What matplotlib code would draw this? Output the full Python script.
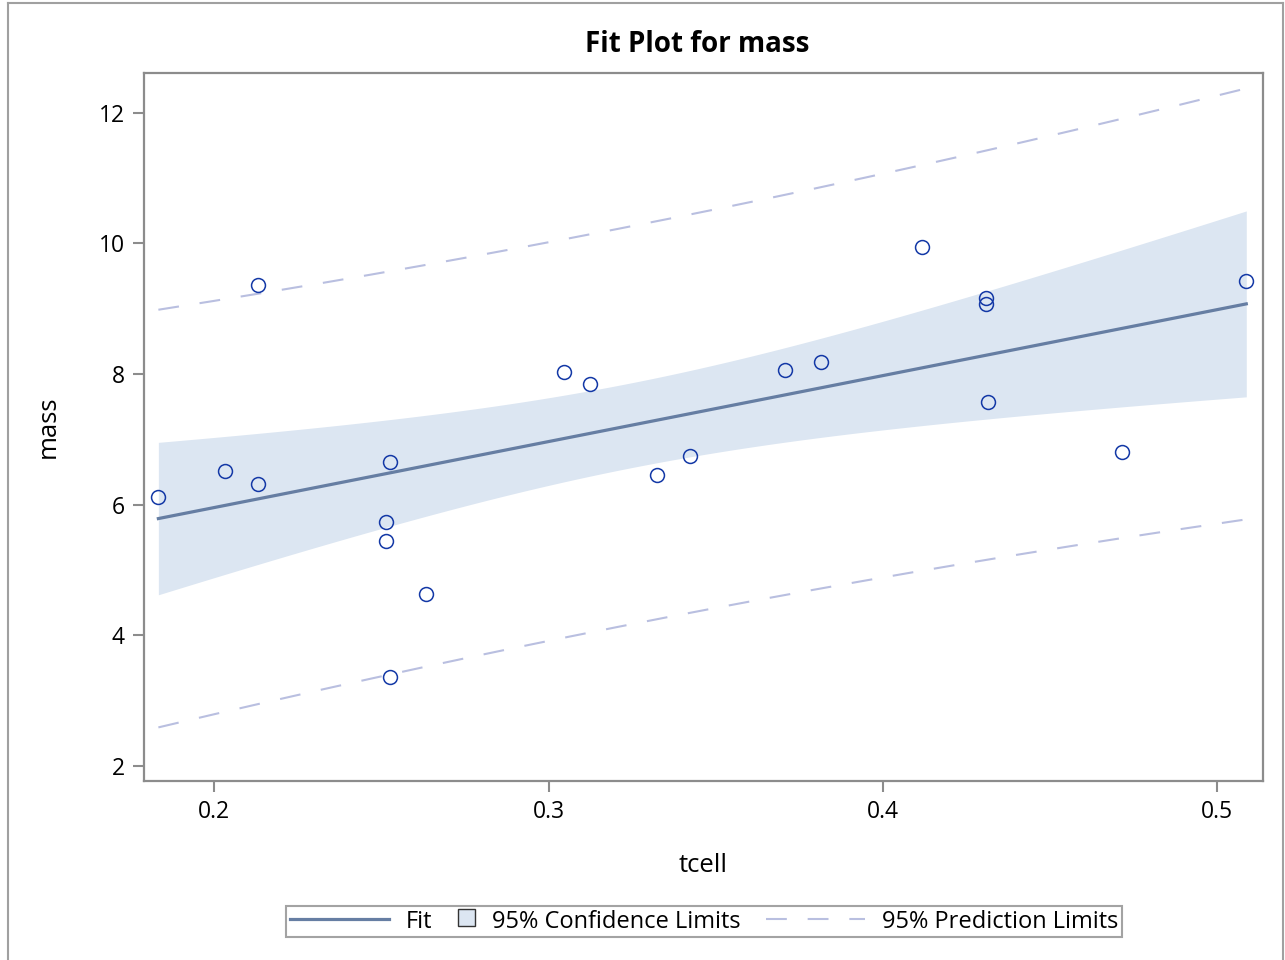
import numpy as np
import matplotlib
matplotlib.use("Agg")
import matplotlib.pyplot as plt
from matplotlib.lines import Line2D
from matplotlib.patches import Rectangle
from matplotlib.legend_handler import HandlerBase

plt.rcParams['font.family'] = ['Open Sans', 'DejaVu Sans']

# Data
tcell = [0.1833, 0.2033, 0.2131, 0.2131, 0.2513, 0.2513, 0.2525, 0.2525, 0.2633,
         0.3045, 0.3125, 0.3325, 0.3424, 0.3707, 0.3815, 0.4116, 0.4307, 0.4307,
         0.4313, 0.4716, 0.5087]
mass = [6.12, 6.52, 9.36, 6.31, 5.74, 5.45, 6.66, 3.36, 4.64,
        8.03, 7.85, 6.46, 6.75, 8.06, 8.18, 9.95, 9.16, 9.08,
        7.57, 6.81, 9.42]
x_ticks = [0.2, 0.3, 0.4, 0.5]
y_ticks = [2, 4, 6, 8, 10, 12]

x = np.array(tcell)
y = np.array(mass)
n = len(x)
b1, b0 = np.polyfit(x, y, 1)
resid = y - (b0 + b1 * x)
s = np.sqrt(np.sum(resid ** 2) / (n - 2))
tval = 2.093024  # t(0.975, 19)
xg = np.linspace(x.min(), x.max(), 200)
yg = b0 + b1 * xg
sxx = np.sum((x - x.mean()) ** 2)
se_mean = s * np.sqrt(1.0 / n + (xg - x.mean()) ** 2 / sxx)
se_pred = s * np.sqrt(1 + 1.0 / n + (xg - x.mean()) ** 2 / sxx)

fill_c = '#DCE6F2'
fit_c = '#667EA3'
pred_c = '#B9BFE0'
mark_c = '#1338A6'
gray = '#8C8C8C'
FS = 16.5

fig = plt.figure(figsize=(12.85, 9.6), dpi=100)
ax = fig.add_axes([144 / 1285, 1 - 781 / 960, (1263 - 144) / 1285, (781 - 73) / 960])

ax.fill_between(xg, yg - tval * se_mean, yg + tval * se_mean, color=fill_c, lw=0, zorder=1)
ax.plot(xg, yg, color=fit_c, lw=2.3, zorder=3)
ax.plot(xg, yg - tval * se_pred, color=pred_c, lw=1.5, ls=(0, (10, 10)), zorder=2)
ax.plot(xg, yg + tval * se_pred, color=pred_c, lw=1.5, ls=(0, (10, 10)), zorder=2)
ax.plot(x, y, ls='none', marker='o', ms=10, mfc='none', mec=mark_c, mew=1.1, zorder=4)

ax.set_xlim(0.179, 0.5137)
ax.set_ylim(1.77, 12.61)
ax.set_xticks(x_ticks)
ax.set_xticklabels([f'{v:.1f}' for v in x_ticks])
ax.set_yticks(y_ticks)
for sp in ax.spines.values():
    sp.set_color(gray)
    sp.set_linewidth(1.6)
ax.tick_params(direction='out', length=8, width=1.5, color=gray, labelsize=FS,
               labelcolor='black', pad=6)
ax.set_xlabel('tcell', fontsize=18.5)
ax.set_ylabel('mass', fontsize=18.5)
ax.xaxis.set_label_coords(0.5, (781 - 866) / 708)
ax.yaxis.set_label_coords((48 - 144) / 1119, 0.5)
ax.xaxis.label.set_verticalalignment('center')
ax.yaxis.label.set_verticalalignment('center')
fig.text(697.5 / 1285, 1 - 45 / 960, 'Fit Plot for mass', fontsize=20, fontweight='bold',
         ha='center', va='center')


class SquareHandler(HandlerBase):
    def legend_artist(self, legend, orig_handle, fontsize, handlebox):
        sz = 0.72 * fontsize
        handlebox.width = sz
        r = Rectangle((0, (handlebox.height - sz) / 2 + 1), sz, sz, facecolor=fill_c,
                      edgecolor='#333333', lw=1, transform=handlebox.get_transform())
        handlebox.add_artist(r)
        return r


sq = Rectangle((0, 0), 1, 1)
handles = [Line2D([], [], color=fit_c, lw=2.3),
           sq,
           Line2D([], [], color=pred_c, lw=1.5, ls=(0, (10, 10)))]
labels = ['Fit', '95% Confidence Limits', '95% Prediction Limits']
leg = fig.legend(handles, labels, loc='center', bbox_to_anchor=(704 / 1285, 1 - 921.5 / 960),
                 ncol=3, frameon=True, fancybox=False, fontsize=17, handlelength=4.2,
                 handleheight=0.8, columnspacing=1.1, handletextpad=0.7, borderpad=0.15,
                 borderaxespad=0, handler_map={Rectangle: SquareHandler()})
leg.get_frame().set_edgecolor(gray)
leg.get_frame().set_linewidth(1.5)

# outer border
for (xs, ys) in [([8, 8], [960, 3]), ([8, 1283], [3, 3]), ([1283, 1283], [3, 960])]:
    fig.add_artist(Line2D([v / 1285 for v in xs], [1 - v / 960 for v in ys],
                          color='#A0A0A0', lw=1.5))

fig.savefig('out.png', dpi=100)
